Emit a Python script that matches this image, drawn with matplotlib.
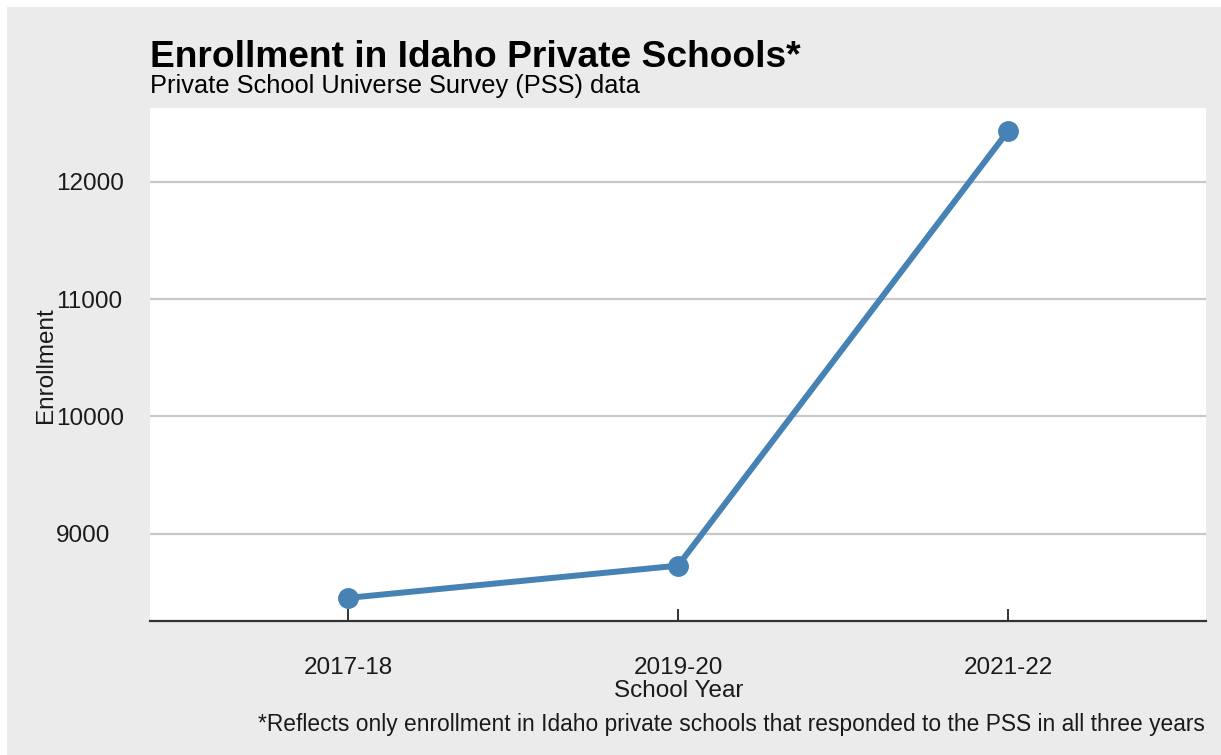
import matplotlib
matplotlib.use("Agg")
import matplotlib.pyplot as plt
from matplotlib.patches import Rectangle

years = ["2017-18", "2019-20", "2021-22"]
enrollment = [8452, 8727, 12433]
yticks = [9000, 10000, 11000, 12000]

plt.rcParams['font.family'] = ['Liberation Sans', 'DejaVu Sans']

W, H = 1221, 755
fig = plt.figure(figsize=(W/100, H/100), dpi=100)
fig.patch.set_facecolor("white")
bg = Rectangle((7/W, 0), 1 - 7/W, 1 - 7/H, transform=fig.transFigure,
               facecolor="#EBEBEB", edgecolor="none", zorder=-10)
fig.patches.append(bg)

left, right, top, bottom = 150, 1206, 108, 621
ax = fig.add_axes([left/W, 1 - bottom/H, (right-left)/W, (bottom-top)/H])
ax.set_facecolor("white")

x = list(range(len(years)))
ax.plot(x, enrollment, color="#4682B4", lw=4.3, marker="o", ms=14,
        solid_capstyle="round", zorder=3, clip_on=False)

ax.set_xlim(-0.6, 2.6)
ax.set_ylim(8255, 12630)
ax.set_yticks(yticks)
ax.set_yticklabels([str(v) for v in yticks], fontsize=17.5, color="#1a1a1a")
for lab in ax.get_yticklabels():
    lab.set_ha("left")
ax.set_xticks(x)
ax.set_xticklabels(years, fontsize=17.5, color="#1a1a1a")
ax.tick_params(axis="y", length=0, pad=(150 - 56) * 0.72)
ax.tick_params(axis="x", direction="in", length=9, width=1.4, color="#333333", pad=26)
ax.yaxis.grid(True, color="#C8C8C8", lw=1.6)
ax.set_axisbelow(True)
for s in ["left", "right", "top"]:
    ax.spines[s].set_visible(False)
ax.spines["bottom"].set_color("#333333")
ax.spines["bottom"].set_linewidth(1.6)

fig.text(150/W, 1 - 66.7/H, "Enrollment in Idaho Private Schools*", fontsize=26.7,
         fontweight="bold", ha="left", va="baseline", color="black")
fig.text(150/W, 1 - 92.5/H, "Private School Universe Survey (PSS) data", fontsize=18.3,
         ha="left", va="baseline", color="black")
fig.text(679/W, 1 - 697/H, "School Year", fontsize=17.5, ha="center", va="baseline", color="#1a1a1a")
fig.text(46/W, 1 - 365/H, "Enrollment", fontsize=17.5, rotation=90, ha="center", va="center",
         color="#1a1a1a")
fig.text(1205/W, 1 - 730.5/H,
         "*Reflects only enrollment in Idaho private schools that responded to the PSS in all three years",
         fontsize=16.4, ha="right", va="baseline", color="#1a1a1a")

fig.savefig("out.png", dpi=100, facecolor=fig.get_facecolor())
